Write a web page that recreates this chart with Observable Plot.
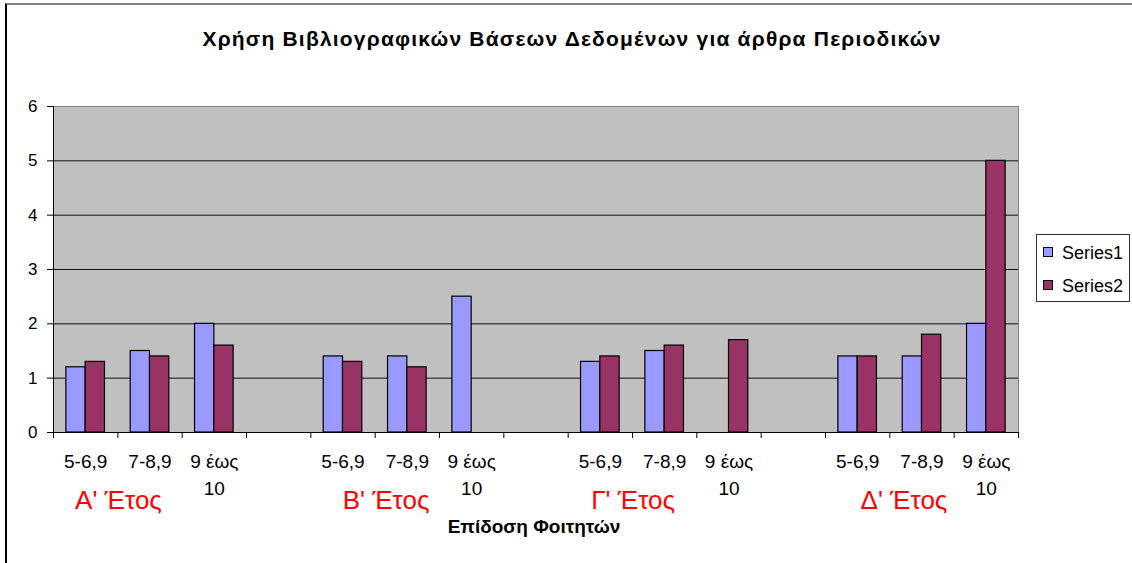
<!DOCTYPE html>
<html>
<head>
<meta charset="utf-8">
<script src="https://cdn.jsdelivr.net/npm/d3@7"></script>
<script src="https://cdn.jsdelivr.net/npm/@observablehq/plot@0.6"></script>
<style>
  html, body { margin: 0; padding: 0; background: #fff; }
  #wrap { position: relative; width: 1132px; height: 563px; overflow: hidden; font-family: "Liberation Sans", Arial, sans-serif; }
  #border { position: absolute; left: 5px; top: 3px; width: 2000px; height: 2000px; border-left: 2px solid #000; border-top: 2px solid #808080; box-sizing: border-box; pointer-events: none; }
  #title { position: relative; height: 60px; }
  #title span { position: absolute; left: 572px; top: 27px; transform: translateX(-50%); white-space: nowrap; font-weight: bold; font-size: 21px; letter-spacing: 1.2px; line-height: 24px; color: #000; }
  #legend { position: absolute; left: 1036px; top: 234px; width: 94px; height: 68px; border: 1px solid #333; box-sizing: border-box; background: #fff; }
  .item { position: absolute; left: 6px; font-size: 18px; line-height: 20px; color: #000; white-space: nowrap; }
  .sw { display: inline-block; width: 8px; height: 8px; border: 1px solid #000; margin-right: 9px; vertical-align: 2px; }
</style>
</head>
<body>
<div id="wrap">
  <div id="title"><span id="titleText"></span></div>
  <div id="chart"></div>
  <div id="legend"></div>
  <div id="border"></div>
</div>
<script>
const titleText = "Χρήση Βιβλιογραφικών Βάσεων Δεδομένων για άρθρα Περιοδικών";
const xTitle = "Επίδοση Φοιτητών";
const categories = ["5-6,9", "7-8,9", "9 έως\n10", "", "5-6,9", "7-8,9", "9 έως\n10", "", "5-6,9", "7-8,9", "9 έως\n10", "", "5-6,9", "7-8,9", "9 έως\n10"];
const groups = ["Α' Έτος", "Β' Έτος", "Γ' Έτος", "Δ' Έτος"];
const seriesNames = ["Series1", "Series2"];
const series1 = [1.2, 1.5, 2.0, null, 1.4, 1.4, 2.5, null, 1.3, 1.5, null, null, 1.4, 1.4, 2.0];
const series2 = [1.3, 1.4, 1.6, null, 1.3, 1.2, null, null, 1.4, 1.6, 1.7, null, 1.4, 1.8, 5.0];
const yTicks = [0, 1, 2, 3, 4, 5, 6];
const seriesColors = ["#9999FF", "#993366"];

document.getElementById("titleText").textContent = titleText;

// Build bar table
const bars = [];
[series1, series2].forEach((vals, s) => {
  vals.forEach((v, i) => {
    if (v != null) bars.push({i, s, series: seriesNames[s], value: v});
  });
});

const groupNudge = [0.01, 0.17, 0.01, 0.22];

const chart = Plot.plot({
  width: 1132,
  height: 503,
  marginTop: 46,
  marginBottom: 131,
  marginLeft: 53,
  marginRight: 114,
  style: {fontFamily: "'Liberation Sans', Arial, sans-serif", background: "transparent", color: "#000"},
  x: {type: "linear", domain: [0, categories.length], axis: null, label: null},
  y: {domain: [0, 6], axis: null, label: null},
  color: {domain: seriesNames, range: seriesColors},
  marks: [
    Plot.frame({fill: "#C0C0C0", stroke: null}),
    Plot.ruleY(yTicks.filter(d => d > 0 && d < 6), {stroke: "#111", strokeWidth: 1}),
    Plot.rectY(bars, {
      x1: d => d.i + 0.2 + d.s * 0.3,
      x2: d => d.i + 0.5 + d.s * 0.3,
      y1: 0,
      y2: "value",
      fill: "series",
      stroke: "#000",
      strokeWidth: 1.2
    }),
    Plot.frame({stroke: "#808080"}),
    Plot.ruleX([0], {stroke: "#000"}),
    Plot.ruleY([0], {stroke: "#000"}),
    Plot.axisY({ticks: yTicks, tickSize: 6, tickPadding: 10, fontSize: 17, label: null, tickFormat: d => String(d)}),
    Plot.axisX({ticks: d3.range(categories.length + 1), tickSize: 6, label: null, tickFormat: () => ""}),
    Plot.axisX({
      ticks: d3.range(categories.length).map(i => i + 0.5),
      tickSize: 0,
      tickPadding: 17,
      fontSize: 19,
      lineHeight: 1.4,
      label: null,
      tickFormat: v => categories[Math.floor(v)]
    }),
    Plot.text(groups, {
      x: (d, g) => 4 * g + 1 + groupNudge[g],
      frameAnchor: "bottom",
      lineAnchor: "bottom",
      dy: 76,
      text: d => d,
      fill: "#FF0000",
      fontSize: 26
    }),
    Plot.text([xTitle], {
      frameAnchor: "bottom",
      lineAnchor: "bottom",
      dx: -2,
      dy: 100,
      text: d => d,
      fontWeight: "bold",
      fontSize: 19
    })
  ]
});
document.getElementById("chart").appendChild(chart);

// Legend
const legend = document.getElementById("legend");
seriesNames.forEach((name, k) => {
  const it = document.createElement("div");
  it.className = "item";
  it.style.top = (8 + k * 33) + "px";
  const sw = document.createElement("span");
  sw.className = "sw";
  sw.style.background = seriesColors[k];
  it.appendChild(sw);
  it.appendChild(document.createTextNode(name));
  legend.appendChild(it);
});
</script>
</body>
</html>
